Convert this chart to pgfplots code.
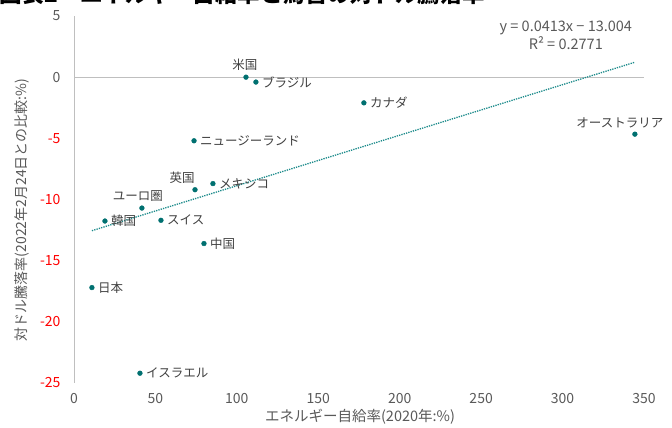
\documentclass[border=0pt]{standalone}
\usepackage{pgfplots}
\pgfplotsset{compat=1.18}
\usepackage{fontspec}
\setmainfont{Noto Sans CJK JP}
\definecolor{teal1}{HTML}{007070}
\definecolor{trend}{HTML}{1A8A8A}
\definecolor{lbl}{HTML}{404040}
\definecolor{tick}{HTML}{595959}
\definecolor{axline}{HTML}{BFBFBF}
\definecolor{negred}{HTML}{FF0000}

\begin{document}
\begin{tikzpicture}
\begin{axis}[
  at={(74pt,45pt)}, anchor=south west,
  scale only axis, width=570pt, height=367pt,
  xmin=0, xmax=350, ymin=-25, ymax=5,
  enlargelimits=false, clip=false,
  axis line style={draw=none},
  major tick length=0pt,
  xtick={0,50,...,350},
  xticklabels={0,50,100,150,200,250,300,350},
  ytick={-25,-20,...,5},
  yticklabels={{\color{negred}-25},{\color{negred}-20},{\color{negred}-15},{\color{negred}-10},{\color{negred}-5},0,5},
  xticklabel style={font=\fontsize{14}{16}\selectfont, color=tick, yshift=-7pt},
  yticklabel style={font=\fontsize{14}{16}\selectfont, color=tick, xshift=-10pt},
  lab/.style={only marks, mark=none, point meta=explicit symbolic, nodes near coords,
    every node near coord/.append style={color=lbl, inner sep=2pt, font=\fontsize{12.5}{14}\selectfont, #1}},
]
\draw[axline, line width=1pt] (axis cs:0,-25) -- (axis cs:0,5);
\draw[axline, line width=1pt] (axis cs:0,0) -- (axis cs:350,0);
\addplot[trend, line width=1.3pt, dash pattern=on 1.3pt off 1.1pt] coordinates {(11,-12.55) (344.4,1.22)};
\addplot[only marks, mark=*, mark size=2.4pt, color=teal1] coordinates {
(105.6,0.0) (111.7,-0.4) (178.0,-2.1) (344.4,-4.66) (73.7,-5.2) (74.3,-9.2) (85.3,-8.7)
(41.7,-10.7) (19.0,-11.76) (53.4,-11.7) (79.8,-13.6) (11.0,-17.2) (40.5,-24.2)};
% labels to the right
\addplot[lab={anchor=west, xshift=4pt}] coordinates {
(111.7,-0.4) [ブラジル] (178.0,-2.1) [カナダ] (73.7,-5.2) [ニュージーランド] (85.3,-8.7) [メキシコ]
(19.0,-11.76) [韓国] (53.4,-11.7) [スイス] (79.8,-13.6) [中国] (11.0,-17.2) [日本] (40.5,-24.2) [イスラエル]};
% labels above
\addplot[lab={anchor=south, xshift=-1pt, yshift=4pt}] coordinates {(105.6,0.0) [米国]};
\addplot[lab={anchor=south, xshift=-15pt, yshift=4pt}] coordinates {(344.4,-4.66) [オーストラリア]};
\addplot[lab={anchor=south, xshift=-13pt, yshift=4pt}] coordinates {(74.3,-9.2) [英国]};
\addplot[lab={anchor=south, xshift=-4pt, yshift=4pt}] coordinates {(41.7,-10.7) [ユーロ圏]};
\node[color=tick, align=center, font=\fontsize{14.5}{18.5}\selectfont] at (axis cs:302,3.4) {y = 0.0413x − 13.004\\R² = 0.2771};
\end{axis}
\node[rotate=90, color=tick, font=\fontsize{14}{16}\selectfont] at (22pt,218pt) {対ドル騰落率(2022年2月24日との比較:\%)};
\node[color=tick, font=\fontsize{14.5}{16}\selectfont] at (360pt,11pt) {エネルギー自給率(2020年:\%)};
\node[anchor=base west, inner sep=0pt, font=\bfseries\fontsize{22.5}{24}\selectfont] at (-1pt,425pt) {図表2　エネルギー自給率と為替の対ドル騰落率};
\pgfresetboundingbox
\path[use as bounding box] (0,0) rectangle (672pt,428pt);
\end{tikzpicture}
\end{document}
